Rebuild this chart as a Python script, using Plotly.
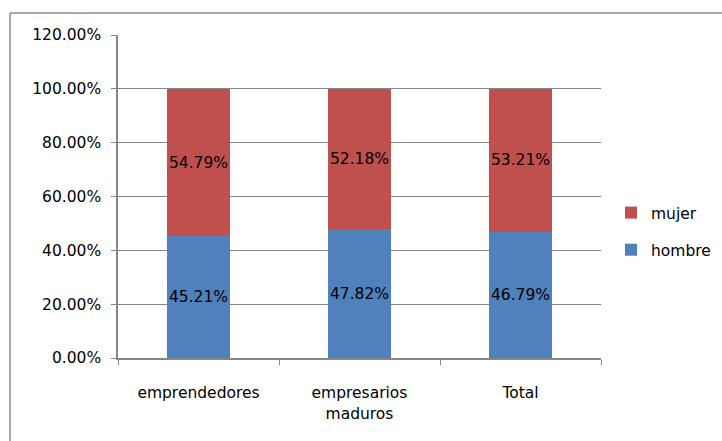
import plotly.graph_objects as go

categories = ["emprendedores", "empresarios<br>maduros", "Total"]
hombre = [0.4521, 0.4782, 0.4679]
mujer = [0.5479, 0.5218, 0.5321]
y_ticks = [0, 0.2, 0.4, 0.6, 0.8, 1.0, 1.2]

FONT = "DejaVu Sans"
FS = 15.5
GRID = "#868686"

fig = go.Figure()
fig.add_trace(go.Bar(
    name="hombre", x=categories, y=hombre, marker_color="#4F81BD",
    marker_line_width=0, width=0.39, legendgroup="h", legendrank=2,
    text=[f"{v*100:.2f}%" for v in hombre], textposition="inside",
    insidetextanchor="middle", constraintext="none", textangle=0,
    textfont=dict(family=FONT, size=FS, color="black"), hoverinfo="skip"))
fig.add_trace(go.Bar(
    name="mujer", x=categories, y=mujer, marker_color="#C0504D",
    marker_line_width=0, width=0.39, legendgroup="m", legendrank=1,
    text=[f"{v*100:.2f}%" for v in mujer], textposition="inside",
    insidetextanchor="middle", constraintext="none", textangle=0,
    textfont=dict(family=FONT, size=FS, color="black"), hoverinfo="skip"))

L, T, R, B = 118, 35, 601, 358
W, H = 722, 441
pw, ph = R - L, B - T

def px(x):
    return (x - L) / pw

def py(y):
    return (B - y) / ph

fig.update_layout(
    width=W, height=H, barmode="stack",
    margin=dict(l=L, r=W - R, t=T, b=H - B, pad=0, autoexpand=False),
    paper_bgcolor="white", plot_bgcolor="white",
    font=dict(family=FONT, size=FS, color="black"),
    showlegend=True,
    legend=dict(x=px(611), y=py(231.5), xanchor="left", yanchor="middle",
                traceorder="grouped", tracegroupgap=14,
                font=dict(family=FONT, size=FS, color="black"),
                bgcolor="rgba(0,0,0,0)"),
    shapes=[
        dict(type="line", xref="paper", yref="paper", x0=px(10), x1=px(10),
             y0=py(445), y1=py(13), line=dict(color="#8c8c8c", width=1.5)),
        dict(type="line", xref="paper", yref="paper", x0=px(10), x1=px(730),
             y0=py(13), y1=py(13), line=dict(color="#8c8c8c", width=1.5)),
    ],
)
fig.update_yaxes(range=[0, 1.2], tickvals=y_ticks, tickformat=".2%",
                 showgrid=True, gridcolor=GRID, gridwidth=1,
                 showline=True, linecolor=GRID, linewidth=1.5,
                 ticks="outside", ticklen=5, tickcolor=GRID,
                 ticklabelstandoff=7, zeroline=False,
                 tickfont=dict(family=FONT, size=FS, color="black"))
fig.update_xaxes(showline=True, linecolor=GRID, linewidth=1.5,
                 ticks="outside", ticklen=5, tickcolor=GRID,
                 tickson="boundaries", ticklabelstandoff=20,
                 showgrid=False,
                 tickfont=dict(family=FONT, size=FS, color="black"))

fig.write_html("out.html")
